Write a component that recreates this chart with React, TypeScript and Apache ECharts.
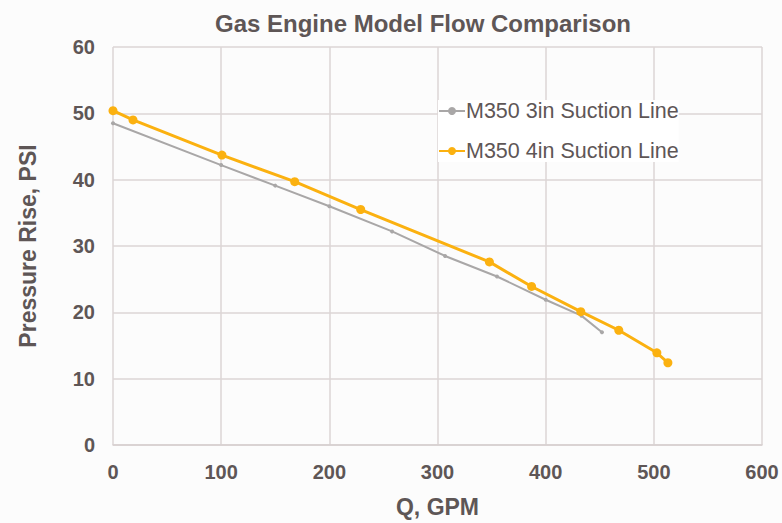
import React, { useEffect, useRef } from "react";
import * as echarts from "echarts";

const titleText = "Gas Engine Model Flow Comparison";
const series3Name = "M350 3in Suction Line";
const series4Name = "M350 4in Suction Line";

const q3in = [0, 100, 150, 200, 258, 307, 355, 400, 433, 452];
const p3in = [48.5, 42.2, 39.1, 36.0, 32.2, 28.5, 25.4, 21.9, 19.5, 17.0];

const q4in = [0, 18.5, 100.7, 168, 229, 348, 387, 432.5, 467.6, 502.8, 513];
const p4in = [50.4, 49.0, 43.7, 39.7, 35.5, 27.6, 23.9, 20.1, 17.3, 13.9, 12.4];

const FONT = "'Liberation Sans', Arial, sans-serif";
const TEXT = "#5e5656";

export default function App() {
  const ref = useRef<HTMLDivElement>(null);
  useEffect(() => {
    document.body.style.margin = "0";
    if (!ref.current) return;
    const chart = echarts.init(ref.current, null, { renderer: "svg" });
    chart.setOption({
      animation: false,
      backgroundColor: "#fcfcfc",
      textStyle: { fontFamily: FONT },
      title: {
        text: titleText,
        left: 423,
        top: 11,
        textAlign: "center",
        padding: 0,
        textStyle: { fontFamily: FONT, fontSize: 24, fontWeight: "bold", color: TEXT },
      },
      legend: {
        orient: "vertical",
        left: 438,
        top: 100,
        itemGap: 18,
        itemWidth: 26,
        itemHeight: 10,
        backgroundColor: "#ffffff",
        padding: [0, 0, 0, 0],
        textStyle: { fontFamily: FONT, fontSize: 21.5, color: TEXT, padding: [0, 0, 0, -4] },
        data: [series3Name, series4Name],
      },
      grid: { left: 113, right: 20, top: 47, bottom: 75 },
      xAxis: {
        type: "value",
        min: 0,
        max: 600,
        interval: 100,
        name: "Q, GPM",
        nameLocation: "middle",
        nameGap: 50,
        nameTextStyle: { fontFamily: FONT, fontSize: 23, fontWeight: "bold", color: TEXT },
        axisLine: { show: true, lineStyle: { color: "#d6cfcf", width: 1.5 } },
        axisTick: { show: false },
        axisLabel: { fontFamily: FONT, fontSize: 20, fontWeight: "bold", color: TEXT, margin: 17 },
        splitLine: { show: true, lineStyle: { color: "#ddd6d6", width: 1.5 } },
      },
      yAxis: {
        type: "value",
        min: 0,
        max: 60,
        interval: 10,
        name: "Pressure Rise, PSI",
        nameLocation: "middle",
        nameGap: 74,
        nameTextStyle: { fontFamily: FONT, fontSize: 23, fontWeight: "bold", color: TEXT },
        axisLine: { show: false },
        axisTick: { show: false },
        axisLabel: { fontFamily: FONT, fontSize: 20, fontWeight: "bold", color: TEXT, margin: 18 },
        splitLine: { show: true, lineStyle: { color: "#ddd6d6", width: 1.5 } },
      },
      series: [
        {
          name: series3Name,
          type: "line",
          data: q3in.map((q, i) => [q, p3in[i]]),
          symbol: "circle",
          symbolSize: 4,
          color: "#a9a7a7",
          lineStyle: { width: 2, color: "#a9a7a7" },
          itemStyle: { color: "#a9a7a7" },
          z: 2,
        },
        {
          name: series4Name,
          type: "line",
          data: q4in.map((q, i) => [q, p4in[i]]),
          symbol: "circle",
          symbolSize: 9,
          color: "#fbb110",
          lineStyle: { width: 3, color: "#fbb110" },
          itemStyle: { color: "#fbb110" },
          z: 3,
        },
      ],
    });
    return () => chart.dispose();
  }, []);
  return <div ref={ref} style={{ width: 782, height: 523 }} />;
}
